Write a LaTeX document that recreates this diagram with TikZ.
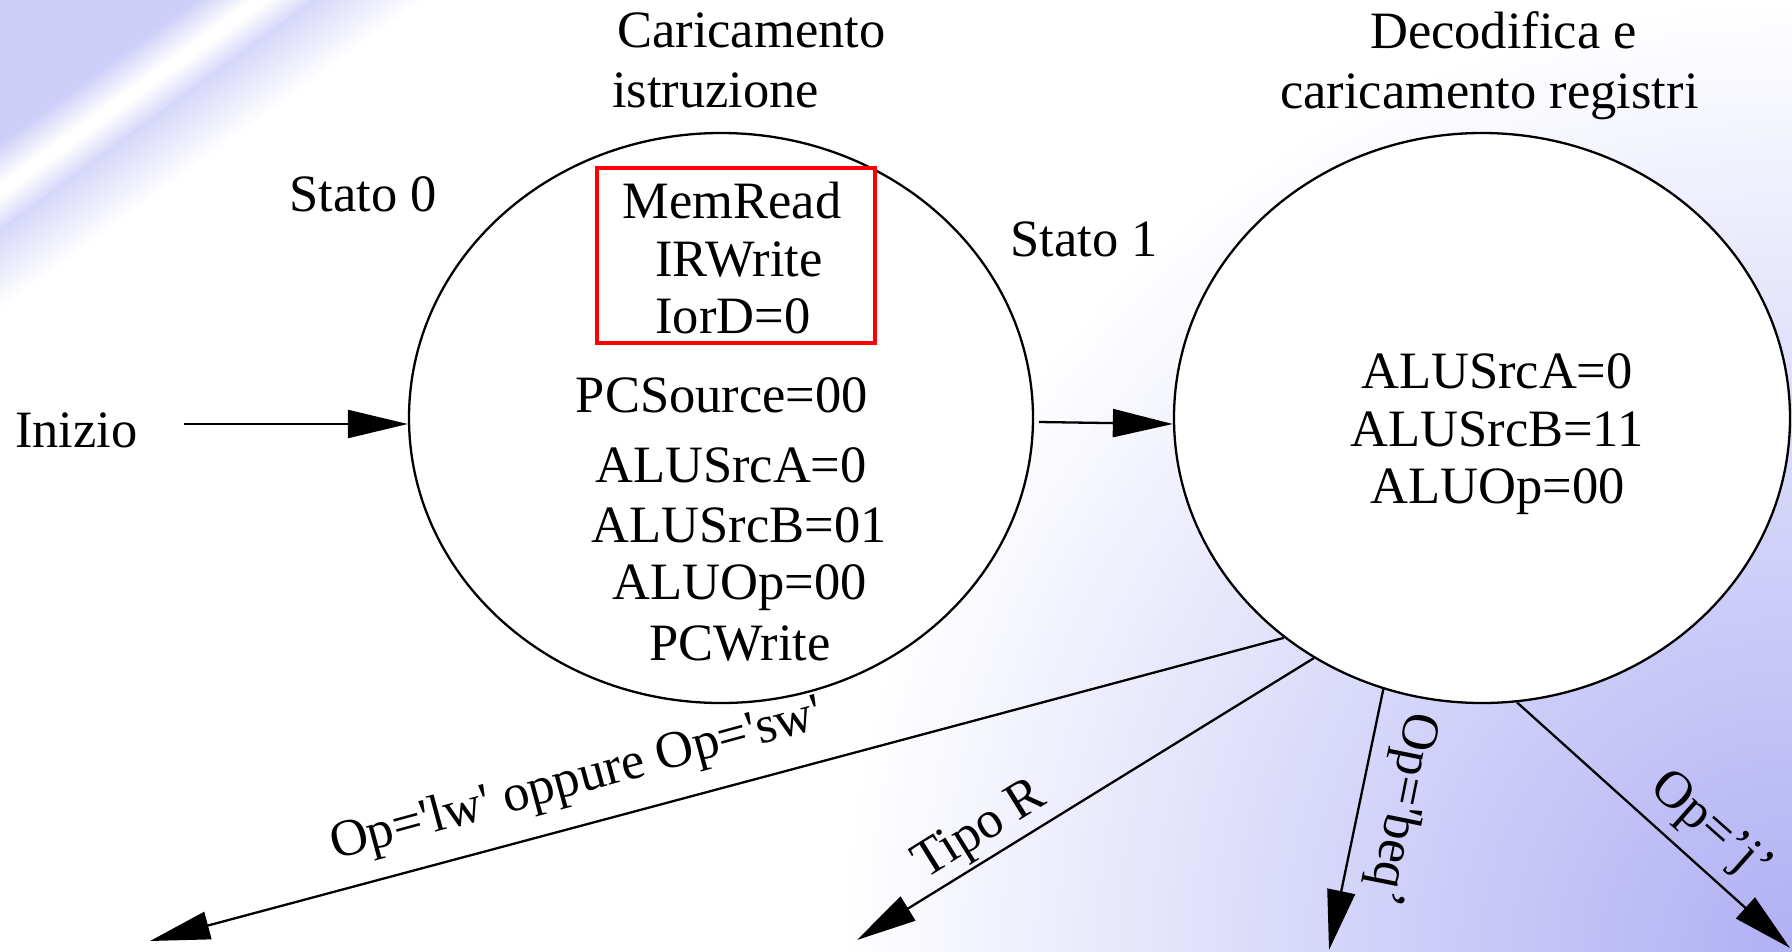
\documentclass[tikz,border=0pt]{standalone}
\usepackage{fontspec}
\setmainfont{Liberation Serif}
\usetikzlibrary{arrows.meta,shapes.geometric}

\definecolor{lavTL}{RGB}{206,206,248}
\definecolor{lavTLb}{RGB}{214,214,250}
\definecolor{lavBR}{RGB}{176,176,244}
\definecolor{lavMa}{RGB}{200,200,248}
\definecolor{lavMb}{RGB}{226,226,251}

% soft lavender glow spreading from the lower right corner
\pgfdeclareradialshading{brglow}{\pgfpoint{0bp}{0bp}}{%
  color(0bp)=(lavBR); color(8bp)=(lavMa); color(16bp)=(lavMb);
  color(25bp)=(white); color(50bp)=(white)}

\begin{document}
\begin{tikzpicture}[x=1pt,y=1pt,
  every node/.style={font=\fontsize{52.5}{60}\selectfont, inner sep=0pt},
  state/.style={ellipse, draw, line width=2.3pt, fill=white},
  txt/.style={anchor=base},
  lefttxt/.style={anchor=base west},
  flow/.style={line width=2.3pt, -{Triangle[length=60pt,width=28pt]}},
  signalbox/.style={draw=red, line width=3.3pt, minimum width=278pt, minimum height=175pt}
]
\useasboundingbox (0,0) rectangle (1792,-951);

% background
\begin{scope}
  \clip (0,0) rectangle (1792,-951);
  \fill[white] (0,0) rectangle (1792,-951);
  \shade[shading=brglow] (1792,-951) circle (950pt);
  % diagonal band with a light streak in the upper left corner
  \begin{scope}[transform canvas={rotate=-53.8}]
    \fill[lavTL] (-40,-1200) rectangle (116,1200);
    \shade[left color=lavTL, right color=white] (115,-1200) rectangle (149,1200);
    \fill[white] (148,-1200) rectangle (159,1200);
    \shade[left color=white, right color=lavTLb] (158,-1200) rectangle (186,1200);
    \shade[left color=lavTLb, right color=white] (185,-1200) rectangle (250,1200);
  \end{scope}
\end{scope}

% states
\node[state, minimum width=624pt, minimum height=570pt] (s0) at (721,-418) {};
\node[state, minimum width=616pt, minimum height=570pt] (s1) at (1482,-418) {};

% titles and state names
\node[lefttxt] (ti0a) at (617,-47) {Caricamento};
\node[lefttxt] (ti0b) at (612,-107) {istruzione};
\node[lefttxt] (ti1a) at (1370,-48) {Decodifica e};
\node[lefttxt] (ti1b) at (1280,-108) {caricamento registri};
\node[txt] (st0) at (363,-211) {Stato 0};
\node[txt] (st1) at (1084,-256) {Stato 1};
\node[lefttxt] (start) at (15,-447) {Inizio};

% state 0 signals
\node[signalbox] (rbox) at (736,-255.5) {};
\node[txt] (a1) at (732,-218) {MemRead};
\node[txt] (a2) at (739,-276) {IRWrite};
\node[txt] (a3) at (733,-333) {IorD=0};
\node[txt] (a4) at (722,-412) {PCSource=00};
\node[txt] (a5) at (731,-482) {ALUSrcA=0};
\node[txt] (a6) at (739,-542) {ALUSrcB=01};
\node[txt] (a7) at (740,-599) {ALUOp=00};
\node[txt] (a8) at (740,-660) {PCWrite};

% state 1 signals
\node[txt] (b1) at (1497,-388) {ALUSrcA=0};
\node[txt] (b2) at (1497,-446) {ALUSrcB=11};
\node[txt] (b3) at (1498,-503) {ALUOp=00};

% transitions
\coordinate (in0) at (184,-424);
\draw[flow] (in0) -- (in0 -| s0.west);
\draw[flow] ([shift={(5pt,-4pt)}]s0.east) -- ([yshift=-6pt]s1.west);

\coordinate (e1) at (150,-941);
\coordinate (e2) at (857,-940);
\coordinate (e3) at (1329,-950);
\coordinate (e4) at (1790,-948);
\draw[flow] (s1.-132.7) -- (e1);
\draw[flow] (s1.-125.2) -- (e2);
\draw[flow] (s1.-110.3) -- (e3);
\draw[flow] (s1.-83.8) -- (e4);

% transition conditions
\node[lefttxt, rotate=15.16] (c1) at (335,-860)
  {Op=\textquotesingle lw\textquotesingle{} oppure Op=\textquotesingle sw\textquotesingle};
\node[lefttxt, rotate=31.85] (c2) at (925,-880) {Tipo R};
\node[lefttxt, rotate=-101.4] (c3) at (1408,-710) {Op=\textquotesingle beq’};
\node[lefttxt, rotate=-41.5] (c4) at (1648,-790) {Op=’j’};
\end{tikzpicture}
\end{document}
